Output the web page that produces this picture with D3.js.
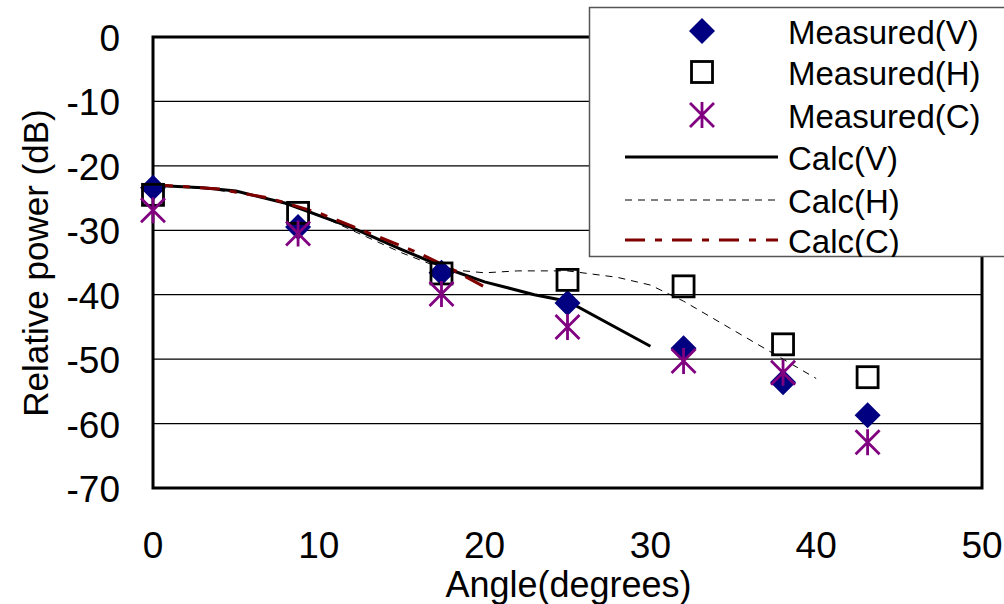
<!DOCTYPE html>
<html>
<head>
<meta charset="utf-8">
<script src="https://cdn.jsdelivr.net/npm/d3@7"></script>
<style>
  body { margin: 0; background: #fff; }
  text { font-family: "Liberation Sans", Arial, sans-serif; fill: #000; }
</style>
</head>
<body>
<svg width="1004" height="604"></svg>
<script>
var width = 1004;
var height = 604;

// measured points
var angles = [0, 8.75, 17.4, 25, 32, 38, 43.1];
var measV = [-23.4, -29.5, -36.6, -41.3, -48.3, -53.6, -58.7];
var measH = [-24.5, -27.3, -36.7, -37.7, -38.7, -47.7, -52.8];
var measC = [-26.9, -30.5, -39.9, -45.0, -50.3, -52.1, -62.9];

// calculated curves
var calcVAngles = [0, 3, 5, 8, 12, 15, 18, 20, 23, 25, 30];
var calcV = [-23, -23.4, -23.9, -25.8, -29.6, -33, -36.2, -38, -40, -41, -48];
var calcHAngles = [0, 3, 6, 9, 12, 15, 17.5, 20, 22, 25, 28, 30, 32, 35, 38, 40];
var calcH = [-23, -23.5, -24.5, -26.5, -30, -33.5, -36, -36.6, -36.3, -36.3, -37.3, -38.5, -41, -45.5, -50, -53];
var calcCAngles = [0, 4, 7, 10, 13, 16, 18, 20];
var calcC = [-22.9, -23.6, -25, -27.3, -30.4, -33.5, -36, -38.8];

var xTicks = [0, 10, 20, 30, 40, 50];
var yTicks = [0, -10, -20, -30, -40, -50, -60, -70];
var legendLabels = ["Measured(V)", "Measured(H)", "Measured(C)", "Calc(V)", "Calc(H)", "Calc(C)"];

var plotLeft = 153, plotRight = 982, plotTop = 37, plotBottom = 488;

var xScale = d3.scaleLinear().domain([0, 50]).range([plotLeft, plotRight]);
var yScale = d3.scaleLinear().domain([-70, 0]).range([plotBottom, plotTop]);

var svg = d3.select("svg");

// gridlines
svg.append("g")
  .selectAll("line")
  .data(yTicks.filter(d => d != 0 && d != -70))
  .enter()
  .append("line")
    .attr("x1", plotLeft).attr("x2", plotRight)
    .attr("y1", d => yScale(d)).attr("y2", d => yScale(d))
    .attr("stroke", "#000").attr("stroke-width", 1.2);

// plot border
svg.append("rect")
  .attr("x", plotLeft).attr("y", plotTop)
  .attr("width", plotRight - plotLeft).attr("height", plotBottom - plotTop)
  .attr("fill", "none").attr("stroke", "#000").attr("stroke-width", 3);

// y tick labels
svg.append("g")
  .selectAll("text")
  .data(yTicks)
  .enter()
  .append("text")
    .attr("x", 120)
    .attr("y", d => yScale(d) + 14)
    .attr("text-anchor", "end")
    .style("font-size", "37px")
    .text(d => d == 0 ? "0" : "-" + Math.abs(d));

// x tick labels
svg.append("g")
  .selectAll("text")
  .data(xTicks)
  .enter()
  .append("text")
    .attr("x", d => xScale(d))
    .attr("y", 558)
    .attr("text-anchor", "middle")
    .style("font-size", "37px")
    .text(d => d);

// axis titles
svg.append("text")
  .attr("x", (plotLeft + plotRight) / 2 + 1)
  .attr("y", 597)
  .attr("text-anchor", "middle")
  .style("font-size", "36px")
  .text("Angle(degrees)");

svg.append("text")
  .attr("transform", "rotate(-90)")
  .attr("x", -263)
  .attr("y", 48)
  .attr("text-anchor", "middle")
  .style("font-size", "35px")
  .text("Relative power (dB)");

// lines
var line = d3.line().x(d => xScale(d[0])).y(d => yScale(d[1]));

var lineStyles = [
  { color: "#000", width: 3, dash: null },
  { color: "#000", width: 1, dash: "7,6" },
  { color: "#800000", width: 3, dash: "20,10,7,10" }
];

var calcSeries = [
  d3.zip(calcVAngles, calcV),
  d3.zip(calcHAngles, calcH),
  d3.zip(calcCAngles, calcC)
];

calcSeries.forEach(function(s, i) {
  svg.append("path")
    .attr("d", line(s))
    .attr("fill", "none")
    .attr("stroke", lineStyles[i].color)
    .attr("stroke-width", lineStyles[i].width)
    .attr("stroke-dasharray", lineStyles[i].dash);
});

// markers
function drawMarker(g, type, x, y) {
  if (type == "diamond") {
    g.append("path")
      .attr("d", "M" + x + "," + (y - 13) + "L" + (x + 13) + "," + y + "L" + x + "," + (y + 13) + "L" + (x - 13) + "," + y + "Z")
      .attr("fill", "#000080");
  } else if (type == "square") {
    g.append("rect")
      .attr("x", x - 10.5).attr("y", y - 10.5)
      .attr("width", 21).attr("height", 21)
      .attr("fill", "none").attr("stroke", "#000").attr("stroke-width", 2.8);
  } else {
    var r = 13;
    g.append("path")
      .attr("d", "M" + x + "," + (y - r) + "L" + x + "," + (y + r) +
                 "M" + (x - 12) + "," + (y - 12) + "L" + (x + 12) + "," + (y + 12) +
                 "M" + (x - 12) + "," + (y + 12) + "L" + (x + 12) + "," + (y - 12))
      .attr("stroke", "#800080").attr("stroke-width", 2.8).attr("fill", "none");
  }
}

var markerTypes = ["diamond", "square", "asterisk"];
[measV, measH, measC].forEach(function(vals, i) {
  var g = svg.append("g");
  vals.forEach(function(v, j) {
    drawMarker(g, markerTypes[i], xScale(angles[j]), yScale(v));
  });
});

// legend
svg.append("clipPath").attr("id", "legclip")
  .append("rect").attr("x", 589).attr("y", 7).attr("width", 420).attr("height", 250);

svg.append("rect")
  .attr("x", 589.5).attr("y", 7.5)
  .attr("width", 430).attr("height", 249)
  .attr("fill", "#fff").attr("stroke", "#555").attr("stroke-width", 1.5);

var leg = svg.append("g").attr("clip-path", "url(#legclip)");
var legRowY = [31, 72, 115, 157, 200, 240];

markerTypes.forEach(function(t, i) {
  drawMarker(leg, t, 702, legRowY[i]);
});
lineStyles.forEach(function(st, i) {
  leg.append("line")
    .attr("x1", 625).attr("x2", 778)
    .attr("y1", legRowY[i + 3]).attr("y2", legRowY[i + 3])
    .attr("stroke", st.color)
    .attr("stroke-width", st.width)
    .attr("stroke-dasharray", st.dash);
});

leg.selectAll("text")
  .data(legendLabels)
  .enter()
  .append("text")
    .attr("x", 788)
    .attr("y", (d, i) => legRowY[i] + 13)
    .style("font-size", "33px")
    .text(d => d);
</script>
</body>
</html>
